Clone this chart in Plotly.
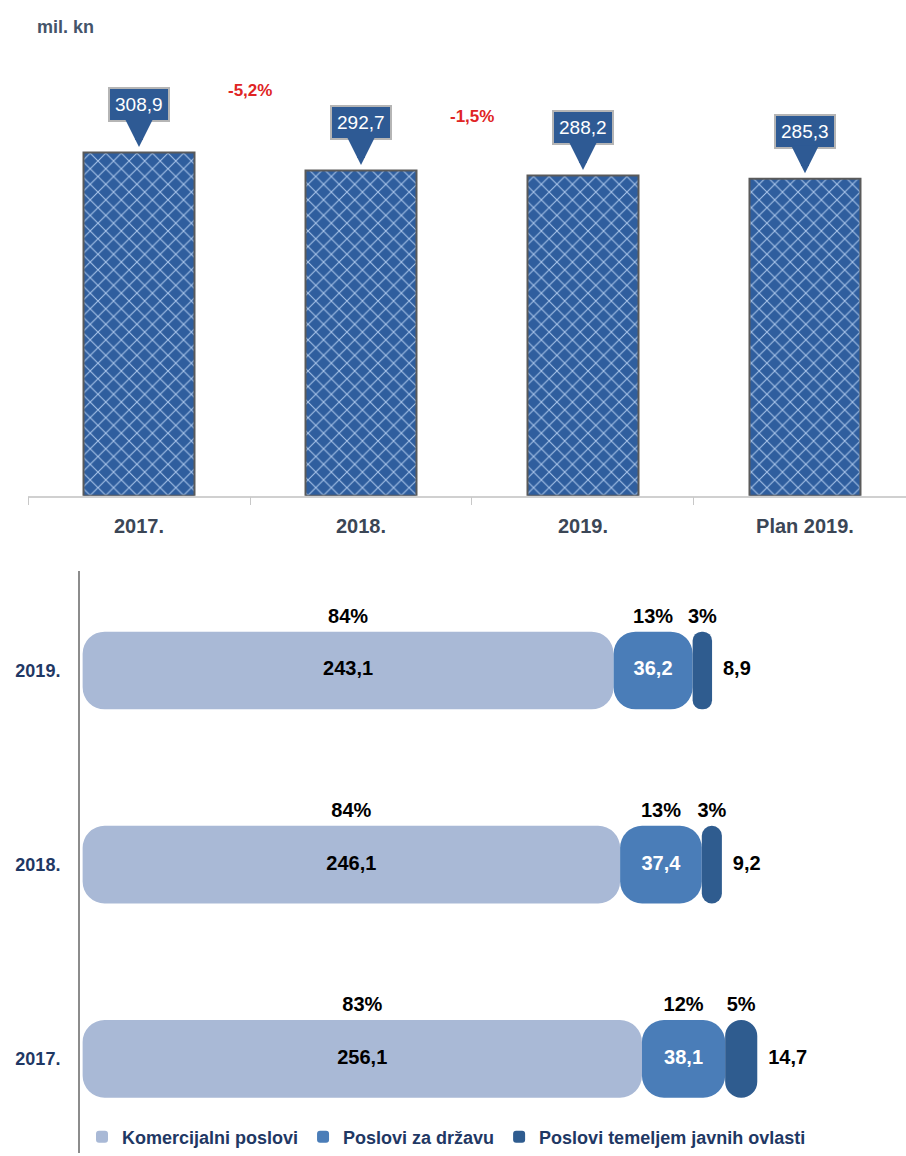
import plotly.graph_objects as go

# ---- data: top chart (total, mil. kn) ----
categories = ["2017.", "2018.", "2019.", "Plan 2019."]
totals = [308.9, 292.7, 288.2, 285.3]
total_labels = ["308,9", "292,7", "288,2", "285,3"]
change_labels = ["-5,2%", "-1,5%"]
change_heights = [365, 341]

# ---- data: bottom chart (structure) ----
years = ["2017.", "2018.", "2019."]
komercijalni = [256.1, 246.1, 243.1]
drzava = [38.1, 37.4, 36.2]
javne = [14.7, 9.2, 8.9]
pct_kom = ["83%", "84%", "84%"]
pct_drz = ["12%", "13%", "13%"]
pct_jav = ["5%", "3%", "3%"]
series_names = ["Komercijalni poslovi", "Poslovi za državu", "Poslovi temeljem javnih ovlasti"]

FONT = "Liberation Sans"
fig = go.Figure()

# top bars
fig.add_trace(go.Bar(
    x=categories, y=totals, width=0.5, xaxis="x", yaxis="y", showlegend=False,
    marker=dict(color="#2F5E9E",
                line=dict(color="#5A5A5A", width=2),
                pattern=dict(shape="x", fgcolor="#A9C5EA", bgcolor="#2F5E9E",
                             size=11, solidity=0.18, fillmode="replace")),
    hoverinfo="skip",
))

for i, (v, lab) in enumerate(zip(totals, total_labels)):
    fig.add_annotation(
        x=i, y=v + 5, xref="x", yref="y", text=lab, showarrow=True,
        ax=0, ay=-42, arrowcolor="#2E5A94", arrowwidth=8, arrowhead=2, arrowsize=0.7,
        bgcolor="#2E5A94", bordercolor="#B5B5B5", borderwidth=2, borderpad=5,
        font=dict(family=FONT, size=19, color="white"),
    )

for i, (lab, h) in enumerate(zip(change_labels, change_heights)):
    fig.add_annotation(x=i + 0.5, y=h, xref="x", yref="y", text=lab,
                       showarrow=False, font=dict(family=FONT, size=17, color="#E02424", weight="bold"))

fig.add_annotation(x=35 / 906, y=1 - 27 / 1156, xref="paper", yref="paper", xanchor="left",
                   yanchor="middle", text="mil. kn", showarrow=False,
                   font=dict(family=FONT, size=18, color="#44546A", weight="bold"))

# bottom pills
colors = ["#A9B9D6", "#4A7DB8", "#2F5C8F"]
series = [komercijalni, drzava, javne]
ypos = [0, 1, 2]
starts = [[0.0] * 3, komercijalni, [a + b for a, b in zip(komercijalni, drzava)]]
for s, (vals, col, name) in enumerate(zip(series, colors, series_names)):
    fig.add_trace(go.Bar(
        y=ypos, x=vals, base=starts[s], orientation="h", width=0.4, name=name,
        xaxis="x2", yaxis="y2", marker=dict(color=col, cornerradius=22, line=dict(width=0)),
        showlegend=True, hoverinfo="skip"))

ends = [a + b + c for a, b, c in zip(komercijalni, drzava, javne)]
lab_font = dict(family=FONT, size=20, color="black", weight="bold")
# value labels
fig.add_trace(go.Scatter(
    x=[v / 2 for v in komercijalni], y=ypos, mode="text", xaxis="x2", yaxis="y2",
    text=[f"{v:.1f}".replace(".", ",") for v in komercijalni],
    textfont=lab_font, showlegend=False, hoverinfo="skip"))
fig.add_trace(go.Scatter(
    x=[k + d / 2 for k, d in zip(komercijalni, drzava)], y=ypos, mode="text", xaxis="x2", yaxis="y2",
    text=[f"{v:.1f}".replace(".", ",") for v in drzava],
    textfont=dict(family=FONT, size=20, color="white", weight="bold"), showlegend=False, hoverinfo="skip"))
fig.add_trace(go.Scatter(
    x=[e + 5 for e in ends], y=ypos, mode="text", textposition="middle right", xaxis="x2", yaxis="y2",
    text=[f"{v:.1f}".replace(".", ",") for v in javne],
    textfont=lab_font, showlegend=False, hoverinfo="skip"))
# percentage labels
for s, (vals, pl) in enumerate(zip(series, [pct_kom, pct_drz, pct_jav])):
    fig.add_trace(go.Scatter(
        x=[st + v / 2 for st, v in zip(starts[s], vals)], y=[p + 0.27 for p in ypos],
        mode="text", xaxis="x2", yaxis="y2", text=pl,
        textfont=lab_font, showlegend=False, hoverinfo="skip"))

fig.update_layout(
    width=906, height=1156, margin=dict(l=0, r=0, t=0, b=0),
    paper_bgcolor="white", plot_bgcolor="white", barmode="overlay",
    font=dict(family=FONT),
    xaxis=dict(domain=[28 / 906, 1], range=[-0.5, 3.455], type="category", anchor="y",
               showline=True, linecolor="#D0D0D0", linewidth=1.5, ticks="outside",
               tickson="boundaries", ticklen=8, tickcolor="#C8C8C8", showgrid=False,
               tickfont=dict(family=FONT, size=20, color="#3B4656", weight="bold"),
               ticklabelstandoff=12),
    yaxis=dict(domain=[(1156 - 497) / 1156, (1156 - 60) / 1156], range=[0, 392.3],
               visible=False, anchor="x"),
    xaxis2=dict(domain=[80 / 906, 1], range=[-1.2, 377], visible=False, anchor="y2"),
    yaxis2=dict(domain=[0, (1156 - 572) / 1156], range=[-0.485, 2.515], anchor="x2",
                tickvals=ypos, ticktext=years,
                showline=True, linecolor="#8C8C8C", linewidth=2, ticks="",
                showgrid=False, zeroline=False, ticklabelstandoff=14,
                tickfont=dict(family=FONT, size=18, color="#1F3864", weight="bold")),
    legend=dict(orientation="h", x=82 / 906, xanchor="left", y=16 / 1156, yanchor="middle",
                font=dict(family=FONT, size=18, color="#1F3864", weight="bold"),
                traceorder="normal", itemwidth=30,
                bgcolor="rgba(0,0,0,0)"),
)

fig.write_html("out.html", config={"displayModeBar": False},
               post_script="document.body.style.margin='0';document.body.style.overflow='hidden';")
